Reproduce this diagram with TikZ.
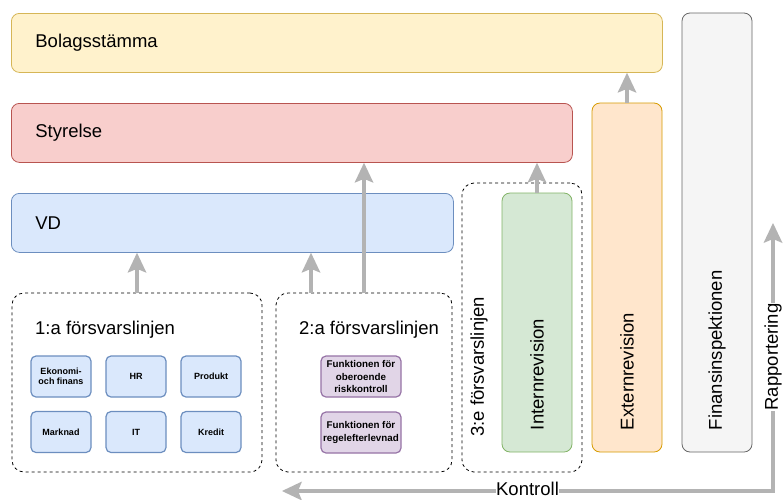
\documentclass[tikz,border=0pt]{standalone}
\usepackage{fontspec}
\setmainfont{Liberation Sans}
\usepackage{tikz}
\usetikzlibrary{arrows.meta}

\definecolor{gulfyll}{HTML}{FFF2CC}
\definecolor{gulkant}{HTML}{D6B656}
\definecolor{rodfyll}{HTML}{F8CECC}
\definecolor{rodkant}{HTML}{B85450}
\definecolor{blafyll}{HTML}{DAE8FC}
\definecolor{blakant}{HTML}{6C8EBF}
\definecolor{gronfyll}{HTML}{D5E8D4}
\definecolor{gronkant}{HTML}{82B366}
\definecolor{orangefyll}{HTML}{FFE6CC}
\definecolor{orangekant}{HTML}{D79B00}
\definecolor{gratfyll}{HTML}{F5F5F5}
\definecolor{gratkant}{HTML}{666666}
\definecolor{lilafyll}{HTML}{E1D5E7}
\definecolor{lilakant}{HTML}{9673A6}
\definecolor{pilgra}{HTML}{B3B3B3}

\begin{document}
\begin{tikzpicture}[x=1pt, y=-1pt,
    stortext/.style={font=\fontsize{18.5}{22}\selectfont},
    niva/.style={draw, stortext, rounded corners=8pt, line width=0.8pt,
      minimum height=59pt, inner xsep=24pt, align=left, anchor=north west},
    kolumn/.style={draw, stortext, rounded corners=8pt, line width=0.8pt,
      rotate=90, minimum height=70pt, inner xsep=22pt, align=left},
    linje/.style={draw, dash pattern=on 3pt off 3pt, rounded corners=12pt,
      line width=0.8pt},
    enhet/.style={draw=blakant, fill=blafyll, rounded corners=5pt, line width=1.2pt,
      minimum width=60pt, minimum height=41pt, inner xsep=1pt, align=center,
      font=\fontsize{9}{10}\selectfont\bfseries},
    funktion/.style={draw=lilakant, fill=lilafyll, rounded corners=5pt, line width=1.2pt,
      minimum width=80pt, minimum height=41pt, inner xsep=1pt, align=center,
      font=\fontsize{9.8}{12.5}\selectfont\bfseries},
    pil/.style={draw=pilgra, line width=4pt,
      -{Stealth[length=20pt,width=19pt,inset=4pt,line width=0pt]}},
    etikett/.style={fill=white, inner sep=0.5pt, stortext}]
    \path[fill=white, use as bounding box] (0,0) rectangle (784,499);

    \node[niva, fill=gulfyll, draw=gulkant, text width=603pt] (bolag) at (11,13) {Bolagsstämma};
    \node[niva, fill=rodfyll, draw=rodkant, text width=513pt] (styrelse) at (11,103) {Styrelse};
    \node[niva, fill=blafyll, draw=blakant, text width=394pt] (vd) at (11,193) {VD};

    \node[linje, minimum width=250pt, minimum height=179pt] (linje1) at (137,382.5) {};
    \node[linje, minimum width=176pt, minimum height=179pt] (linje2) at (364,382.5) {};
    \node[linje, minimum width=120pt, minimum height=289pt] (linje3) at (522,327.5) {};

    \node[stortext, inner sep=0pt, anchor=west] (rubrik1) at (35,330) {1:a försvarslinjen};
    \node[stortext, inner sep=0pt] (rubrik2) at (369,330) {2:a försvarslinjen};
    \node[stortext, inner sep=0pt, rotate=90, anchor=west] (rubrik3) at (479,437) {3:e försvarslinjen};

    \node[enhet] (ekonomi) at (61,376.5) {Ekonomi-\\och finans};
    \node[enhet] (hr) at (136,376.5) {HR};
    \node[enhet] (produkt) at (211,376.5) {Produkt};
    \node[enhet] (marknad) at (61,432) {Marknad};
    \node[enhet] (it) at (136,432) {IT};
    \node[enhet] (kredit) at (211,432) {Kredit};

    \node[funktion] (risk) at (361,376.5) {Funktionen för\\oberoende\\riskkontroll};
    \node[funktion] (regel) at (361,432.5) {Funktionen för\\regelefterlevnad};

    \node[kolumn, fill=gronfyll, draw=gronkant, text width=215pt] (intern) at (537,322.5) {Internrevision};
    \node[kolumn, fill=orangefyll, draw=orangekant, text width=305pt] (extern) at (627,277.5) {Externrevision};
    \node[kolumn, fill=gratfyll, draw=gratkant, text width=395pt] (fi) at (717,232.5) {Finansinspektionen};

    \draw[pil] (linje1.north) -- (linje1.north |- vd.south);
    \draw[pil] ([xshift=-53pt]linje2.north) -- ([xshift=-53pt]linje2.north |- vd.south);
    \draw[pil] (linje2.north) -- (linje2.north |- styrelse.south);
    \draw[pil] (intern.east) -- (intern.east |- styrelse.south);
    \draw[pil] (extern.east) -- (extern.east |- bolag.south);

    \coordinate (kontroll) at (282,491);
    \coordinate (horn) at (773,491);
    \coordinate (rapport) at (773,223);
    \draw[pil, {Stealth[length=20pt,width=19pt,inset=4pt,line width=0pt]}-{Stealth[length=20pt,width=19pt,inset=4pt,line width=0pt]}]
      (kontroll) -- node[etikett, yshift=2.5pt] {Kontroll} (horn)
      -- node[etikett, rotate=90] {Rapportering} (rapport);
  \end{tikzpicture}
\end{document}
